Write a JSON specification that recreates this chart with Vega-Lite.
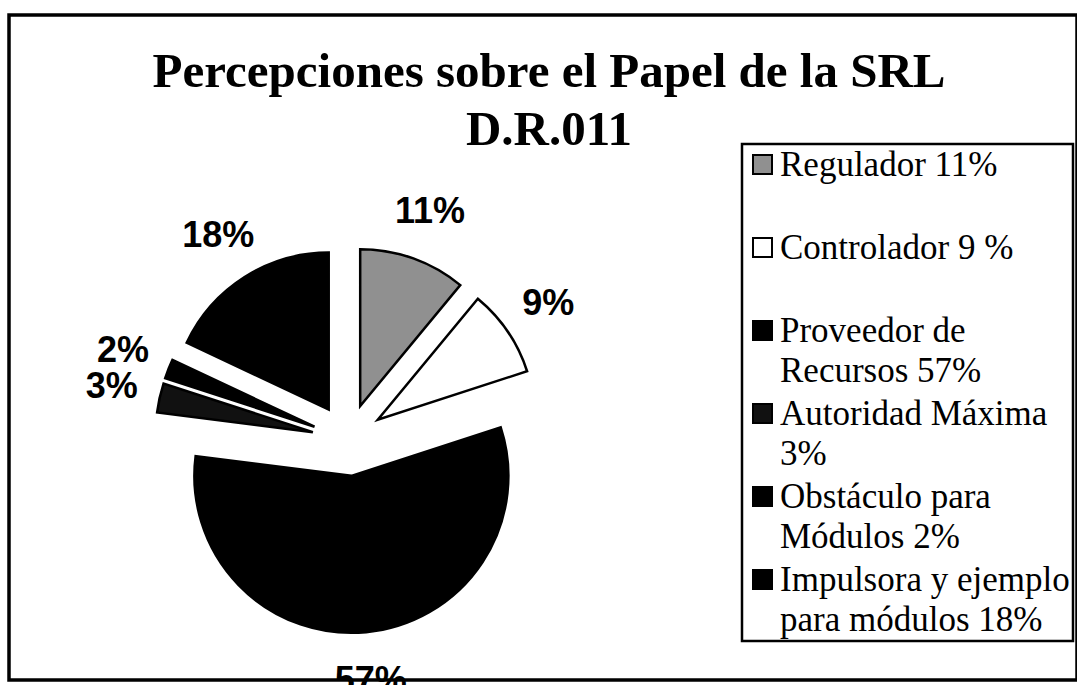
{
  "$schema": "https://vega.github.io/schema/vega-lite/v6.json",
  "width": 1068,
  "height": 665,
  "autosize": {"type": "none"},
  "padding": {"left": 9, "top": 15, "right": 0, "bottom": 5},
  "background": "white",
  "view": {"stroke": "black", "strokeWidth": 3.5},
  "config": {"view": {"stroke": "black", "strokeWidth": 3.5}, "style": {"cell": {"stroke": "black", "strokeWidth": 3.5}}},
  "title": {
    "text": ["Percepciones sobre el Papel de la SRL", "D.R.011"],
    "font": "Liberation Serif",
    "fontSize": 49,
    "fontWeight": "bold",
    "color": "black",
    "lineHeight": 58,
    "anchor": "middle",
    "dx": 6,
    "offset": -140
  },
  "data": {
    "values": [
      {"rol": "Regulador 11%", "porcentaje": 11, "etiqueta": "11%", "orden": 1},
      {"rol": "Controlador 9 %", "porcentaje": 9, "etiqueta": "9%", "orden": 2},
      {"rol": "Proveedor de Recursos 57%", "porcentaje": 57, "etiqueta": "57%", "orden": 3},
      {"rol": "Autoridad Máxima 3%", "porcentaje": 3, "etiqueta": "3%", "orden": 4},
      {"rol": "Obstáculo para Módulos 2%", "porcentaje": 2, "etiqueta": "2%", "orden": 5},
      {"rol": "Impulsora y ejemplo para módulos 18%", "porcentaje": 18, "etiqueta": "18%", "orden": 6}
    ]
  },
  "layer": [
    {
      "mark": {
        "type": "arc",
        "outerRadius": 157,
        "stroke": "black",
        "strokeWidth": 2.5,
        "strokeJoin": "miter",
        "x": {"expr": "339 + 36*sin(PI*(datum.porcentaje_start + datum.porcentaje_end)/100)"},
        "y": {"expr": "425 - 36*cos(PI*(datum.porcentaje_start + datum.porcentaje_end)/100)"}
      },
      "encoding": {
        "theta": {"field": "porcentaje", "type": "quantitative", "stack": true},
        "order": {"field": "orden", "type": "quantitative"},
        "fill": {
          "field": "rol",
          "type": "nominal",
          "scale": {
            "domain": ["Regulador 11%", "Controlador 9 %", "Proveedor de Recursos 57%", "Autoridad Máxima 3%", "Obstáculo para Módulos 2%", "Impulsora y ejemplo para módulos 18%"],
            "range": ["#909090", "#ffffff", "#000000", "#111111", "#000000", "#000000"]
          },
          "legend": {
            "orient": "none",
            "legendX": 733,
            "legendY": 129,
            "title": null,
            "strokeColor": "black",
            "fillColor": "white",
            "padding": 3,
            "symbolType": "square",
            "symbolSize": 361,
            "symbolStrokeColor": "black",
            "symbolStrokeWidth": 2,
            "labelFont": "Liberation Serif",
            "labelFontSize": 35,
            "labelColor": "black",
            "labelLimit": 400,
            "labelOffset": 0,
            "labelBaseline": "middle",
            "rowPadding": 7,
            "labelExpr": "datum.label == 'Proveedor de Recursos 57%' ? ['Proveedor de', 'Recursos 57%'] : datum.label == 'Autoridad Máxima 3%' ? ['Autoridad Máxima', '3%'] : datum.label == 'Obstáculo para Módulos 2%' ? ['Obstáculo para', 'Módulos 2%'] : datum.label == 'Impulsora y ejemplo para módulos 18%' ? ['Impulsora y ejemplo', 'para módulos 18%'] : [datum.label, '']",
            "encode": {
              "labels": {"update": {"lineHeight": {"value": 40}}},
              "legend": {"update": {"strokeWidth": {"value": 2.5}}}
            }
          }
        }
      }
    },
    {
      "mark": {
        "type": "text",
        "radius": 242,
        "font": "Liberation Sans",
        "fontWeight": "bold",
        "fontSize": 36,
        "color": "black",
        "align": "center",
        "baseline": "middle",
        "x": {"expr": "339"},
        "y": {"expr": "425"}
      },
      "encoding": {
        "theta": {"field": "porcentaje", "type": "quantitative", "stack": true},
        "order": {"field": "orden", "type": "quantitative"},
        "text": {"field": "etiqueta", "type": "nominal"}
      }
    }
  ]
}
